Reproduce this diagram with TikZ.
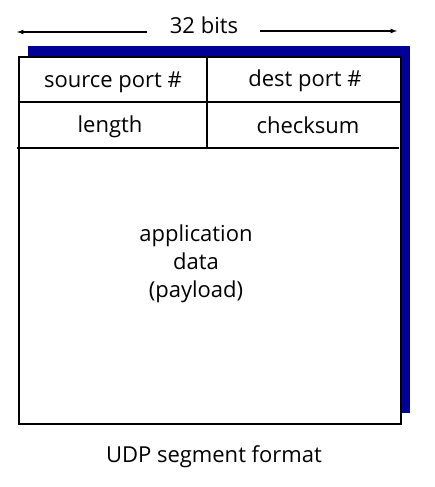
\documentclass[tikz,border=0pt]{standalone}
\usepackage{fontspec}
\setmainfont{Open Sans}
\begin{document}
\begin{tikzpicture}[x=1pt,y=-1pt,
  frame/.style={line width=2pt,draw=black},
  lbl/.style={font=\fontsize{22}{28}\selectfont,inner sep=0pt,anchor=center},
  span/.style={line width=1.2pt,-latex}]
\useasboundingbox (0,0) rectangle (435,487);
% drop shadow
\fill[fill={rgb,255:red,0;green,0;blue,153}] (28,46) rectangle (410,413);
% segment outline
\filldraw[frame,fill=white] (19,57) rectangle (401,424);
\draw[frame] (19,102) -- (401,102);
\draw[frame] (17,148) -- (399,148);
\draw[frame] (207,57) -- (207,148);
% header fields
\node[lbl] (src) at (113,82) {source port \#};
\node[lbl] (dst) at (305,81) {dest port \#};
\node[lbl] (len) at (110,127) {length};
\node[lbl] (chk) at (308,125) {checksum};
\node[lbl,align=center] (data) at (196,264) {application\\ data\\ (payload)};
% width indicator
\node[lbl] (bits) at (204,25) {32 bits};
\coordinate (lend) at (17,32);
\coordinate (rend) at (397,31);
\draw[span] (147,32) -- (lend);
\draw[span] (260,31) -- (rend);
% caption
\node[lbl] (cap) at (214,457) {UDP segment format};
\end{tikzpicture}
\end{document}
